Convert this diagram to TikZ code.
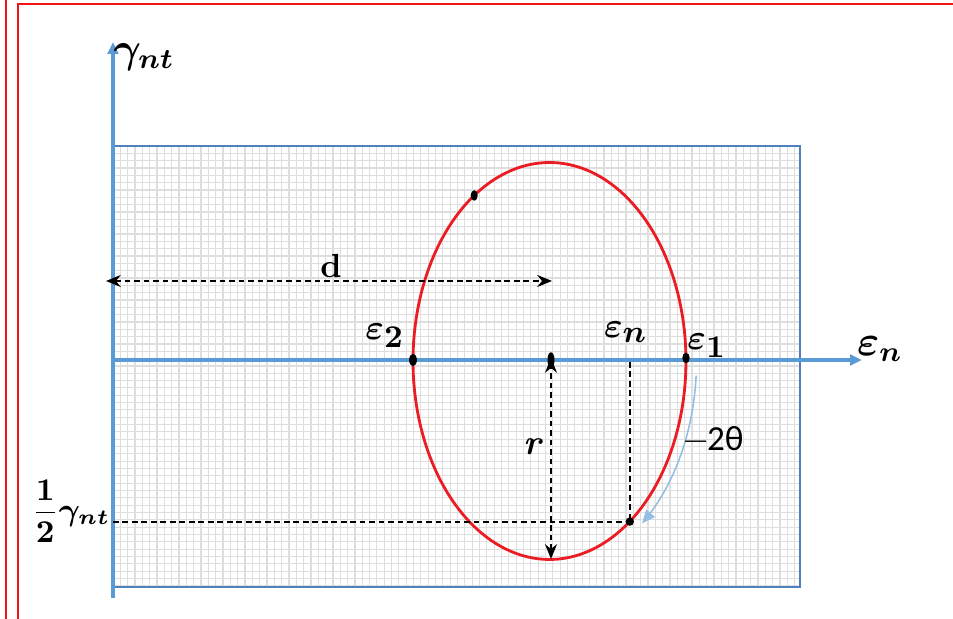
\documentclass[tikz,border=0pt]{standalone}
\usepackage{amsmath}
\usepackage{fontspec}
\newfontfamily\carlitofont{Carlito}
\usetikzlibrary{arrows.meta,calc}
\definecolor{axisblue}{RGB}{91,155,213}
\definecolor{borderblue}{RGB}{79,129,189}
\definecolor{circred}{RGB}{235,28,36}
\definecolor{arcblue}{RGB}{150,190,228}
\definecolor{gridgray}{RGB}{222,222,222}
\definecolor{framered}{RGB}{240,20,20}
\newcommand\epsub[1]{$\boldsymbol{\varepsilon}_{\mbox{\fontsize{9}{10}\selectfont$\boldsymbol{#1}$}}$}
\begin{document}
\begin{tikzpicture}[x=0.01cm,y=-0.01cm,
  gridline/.style={draw=gridgray,line width=0.35pt},
  axisline/.style={draw=axisblue,line width=1pt,-{Triangle[length=3.4pt,width=3pt]}},
  borderline/.style={draw=borderblue,line width=0.8pt},
  redline/.style={draw=circred,line width=0.8pt},
  dashline/.style={draw=black,line width=0.6pt,dash pattern=on 1.6pt off 1.1pt},
  dashtip/.style={{Stealth[length=4.2pt,width=3.4pt]}-{Stealth[length=4.2pt,width=3.4pt]}},
  lbl/.style={inner sep=0pt,font=\fontsize{10}{12}\selectfont},
  frameline/.style={draw=framered,line width=0.55pt}]
\useasboundingbox (0,0) rectangle (953,619);
% red frame
\draw[frameline] (6,0) -- (6,619);
\draw[frameline] (18,619) -- (18,4) -- (953,4);
% grid area
\foreach \i in {1,...,93} {\draw[gridline] ({113+7.33*\i},146) -- ({113+7.33*\i},587);}
\foreach \j in {1,...,60} {\draw[gridline] (113,{146+7.33*\j}) -- (800,{146+7.33*\j});}
\draw[borderline] (113,146) rectangle (800,587);
% coordinates
\coordinate (O) at (113,360);
\coordinate (Yb) at (113,598);
\coordinate (Yt) at (113,42);
\coordinate (Xt) at (862,360);
\coordinate (C) at (551,358);
\coordinate (Cb) at (551,559);
\coordinate (E1) at (686,358);
\coordinate (E2) at (413,360);
\coordinate (T) at (474.2,195.5);
\coordinate (P) at (629.8,521.6);
\coordinate (Pa) at (629.8,362);
\coordinate (Ph) at (113,521.6);
\coordinate (Dl) at (106,281);
\coordinate (Dr) at (552,281);
% axes
\draw[axisline] (Yb) -- (Yt);
\draw[axisline] (O) -- (Xt);
% circle
\draw[redline] plot[domain=0:360,samples=160] ({549.5+136.5*cos(\x)},{361+198.5*sin(\x)}) -- cycle;
% dashed lines
\draw[dashline,dashtip] (Dl) -- (Dr);
\draw[dashline,dashtip] (Cb) -- (C);
\draw[dashline] (Pa) -- (P);
\draw[dashline] (Ph) -- (P);
% blue arc arrow
\draw[draw=arcblue,line width=0.45pt,-{Triangle[length=3.8pt,width=3.2pt]}]
  plot[domain=4:51,samples=50] ({549.5+147*cos(\x)},{361+209*sin(\x)});
% dots
\fill (E1) ellipse [x radius=1.05pt,y radius=1.5pt];
\fill (E2) ellipse [x radius=1.1pt,y radius=1.75pt];
\fill (T) ellipse [x radius=1pt,y radius=1.5pt];
\fill (P) circle [radius=1.2pt];
\fill (551,360) ellipse [x radius=1pt,y radius=2.2pt];
% labels
\node[lbl,font=\fontsize{11.5}{13}\selectfont\boldmath] (ly) at (144,57) {$\gamma_{nt}$};
\node[lbl,font=\fontsize{11.5}{13}\selectfont\boldmath] (lx) at (880,349) {$\varepsilon_{n}$};
\node[lbl] (l2) at (385,336) {\epsub{2}};
\node[lbl] (ln) at (626,332) {\epsub{n}};
\node[lbl] (l1) at (707,346) {\epsub{1}};
\node[lbl,font=\fontsize{9.5}{11}\selectfont\bfseries] (ld) at (331,266) {d};
\node[lbl,font=\fontsize{10}{11}\selectfont\bfseries\itshape] (lr) at (532,447) {r};
\node[lbl,font=\fontsize{10}{11}\selectfont\carlitofont] (lt) at (713,440) {$-$\kern-0.8pt2θ};
\node[lbl,font=\fontsize{9}{11}\selectfont\boldmath] (lh) at (71,511) {$\displaystyle\frac{\mathbf{1}}{\mathbf{2}}\gamma_{nt}$};
\end{tikzpicture}
\end{document}
